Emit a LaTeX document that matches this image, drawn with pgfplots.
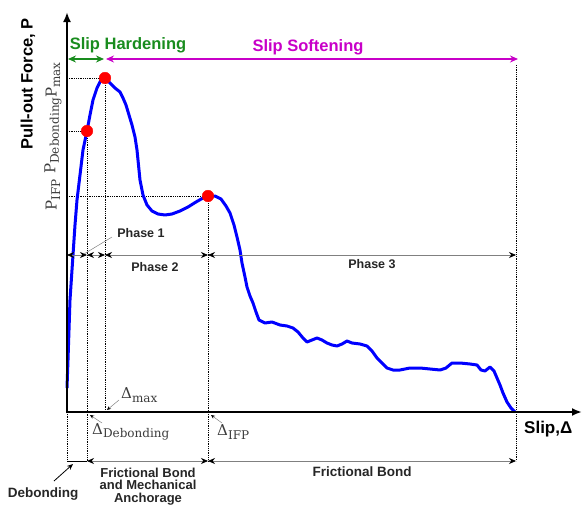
\documentclass[border=0pt]{standalone}
\usepackage{pgfplots}
\pgfplotsset{compat=1.18}
\usepackage{fontspec}
\setmainfont{Liberation Sans}
\newfontfamily\serif{DejaVu Serif}
\usetikzlibrary{arrows.meta}
\definecolor{hgreen}{RGB}{25,140,30}
\definecolor{smag}{RGB}{200,0,200}
\definecolor{dgray}{RGB}{60,60,60}
\newcommand{\sub}[1]{\raisebox{-3.5pt}{\fontsize{12}{14}\selectfont #1}}
\begin{document}
\begin{tikzpicture}
\path[use as bounding box] (0,0) rectangle (582pt,506pt);
\begin{axis}[at={(0,0)},anchor=south west, scale only axis, width=582pt, height=506pt,
  xmin=0,xmax=582,ymin=0,ymax=506, y dir=reverse, hide axis, clip=false]
% dotted guide lines
\draw[densely dotted, line width=0.8pt] (axis cs:67,78)--(axis cs:105,78);
\draw[densely dotted, line width=0.8pt] (axis cs:67,131)--(axis cs:87,131);
\draw[densely dotted, line width=0.8pt] (axis cs:67,196)--(axis cs:208,196);
\draw[densely dotted, line width=0.8pt] (axis cs:87,131)--(axis cs:87,461);
\draw[densely dotted, line width=0.8pt] (axis cs:105,78)--(axis cs:105,412);
\draw[densely dotted, line width=0.8pt] (axis cs:208,196)--(axis cs:208,461);
\draw[densely dotted, line width=0.8pt] (axis cs:516,65)--(axis cs:516,461);
\draw[densely dotted, line width=0.8pt] (axis cs:67,412)--(axis cs:67,461);
% curve
\addplot[blue, line width=3pt, line join=round] coordinates {
(67,388)(68,360)(69,330)(70,300)(72,270)(73,255)(75,225)(77,200)(80,175)(83,150)(87,131)(90,115)(93,100)(97,88)(101,80)(105,78)(110,83)(115,88)(120,92)(123,98)(126,105)(129,115)(132,125)(135,137)(137,150)(138,160)(140,180)(143,195)(147,205)(152,211)(158,214)(165,215)(172,214)(180,211)(188,207)(196,202)(203,198)(208,196)(215,196)(221,199)(226,206)(230,213)(234,225)(237,237)(240,250)(242,263)(245,277)(247,287)(250,296)(253,303)(256,312)(259,320)(265,323)(272,322)(280,325)(287,326)(293,328)(298,332)(303,338)(307,342)(312,340)(317,338)(322,340)(327,343)(332,345)(337,346)(342,344)(347,341)(352,343)(360,344)(367,346)(372,351)(377,358)(382,363)(387,368)(393,370)(400,370)(410,368)(420,368)(430,369)(440,370)(446,368)(452,363)(460,363)(470,364)(477,365)(481,370)(485,371)(490,367)(494,371)(497,378)(500,385)(503,393)(507,402)(511,408)(515,412)
};
\addplot[only marks, mark=*, mark size=5.8pt, red, mark options={draw=red,fill=red}] coordinates {(87,131)(105,78)(208,196)};
% axes
\draw[line width=2pt,-{Latex[length=10pt,width=8pt]}] (axis cs:67,413)--(axis cs:67,12);
\draw[line width=2pt,-{Latex[length=10pt,width=8pt]}] (axis cs:66,412)--(axis cs:582,412);
% top arrows
\draw[hgreen, line width=1.6pt, {Stealth[length=8pt,width=7pt]}-{Stealth[length=8pt,width=7pt]}] (axis cs:68,59)--(axis cs:104,59);
\draw[smag, line width=1.6pt, {Stealth[length=8pt,width=7pt]}-{Stealth[length=8pt,width=7pt]}] (axis cs:106,59)--(axis cs:518,59);
\node[hgreen, font=\bfseries\fontsize{16.5}{18}\selectfont] at (axis cs:128,45) {Slip Hardening};
\node[smag, font=\bfseries\fontsize{16.5}{18}\selectfont] at (axis cs:308,47) {Slip Softening};
% phase arrows
\draw[gray, line width=0.8pt, {Stealth[black,length=7pt,width=6pt]}-{Stealth[black,length=7pt,width=6pt]}] (axis cs:67,255)--(axis cs:87,255);
\draw[gray, line width=0.8pt, {Stealth[black,length=7pt,width=6pt]}-{Stealth[black,length=7pt,width=6pt]}] (axis cs:87,255)--(axis cs:105,255);
\draw[gray, line width=0.8pt, {Stealth[black,length=7pt,width=6pt]}-{Stealth[black,length=7pt,width=6pt]}] (axis cs:105,255)--(axis cs:208,255);
\draw[gray, line width=0.8pt, {Stealth[black,length=7pt,width=6pt]}-{Stealth[black,length=7pt,width=6pt]}] (axis cs:208,255)--(axis cs:516,255);
\draw[gray, line width=0.5pt] (axis cs:112,237)--(axis cs:84,254);
\node[font=\bfseries\fontsize{12.5}{14}\selectfont, text=black!85] at (axis cs:141,233) {Phase 1};
\node[font=\bfseries\fontsize{12.5}{14}\selectfont, text=black!85] at (axis cs:155,267) {Phase 2};
\node[font=\bfseries\fontsize{12.5}{14}\selectfont, text=black!85] at (axis cs:372,264) {Phase 3};
% bottom brackets
\draw[black, line width=0.8pt] (axis cs:67,461)--(axis cs:87,461);
\draw[gray, line width=0.8pt, {Stealth[black,length=7pt,width=6pt]}-{Stealth[black,length=7pt,width=6pt]}] (axis cs:87,461)--(axis cs:208,461);
\draw[gray, line width=0.8pt, {Stealth[black,length=7pt,width=6pt]}-{Stealth[black,length=7pt,width=6pt]}] (axis cs:208,461)--(axis cs:516,461);
\draw[black, line width=0.8pt, -{Stealth[length=6pt,width=5pt]}] (axis cs:54,481)--(axis cs:73,464);
\node[font=\bfseries\fontsize{13.5}{15}\selectfont, text=black!85] at (axis cs:43,494) {Debonding};
\node[font=\bfseries\fontsize{13}{12.6}\selectfont, text=black!85, align=center, anchor=south, inner sep=0.3pt] at (axis cs:148,505.5) {Frictional Bond\\and Mechanical\\Anchorage};
\node[font=\bfseries\fontsize{13.5}{15}\selectfont, text=black!85] at (axis cs:362,472) {Frictional Bond};
% delta labels
\draw[gray, line width=0.5pt, -{Stealth[black,length=4pt,width=3.5pt]}] (axis cs:119,400)--(axis cs:107,410);
\draw[gray, line width=0.5pt, -{Stealth[black,length=4pt,width=3.5pt]}] (axis cs:102,423)--(axis cs:90,415);
\draw[gray, line width=0.5pt, -{Stealth[black,length=4pt,width=3.5pt]}] (axis cs:222,423)--(axis cs:211,415);
\node[text=dgray, font=\serif\fontsize{15}{17}\selectfont, anchor=west, inner sep=0pt] at (axis cs:121,395) {Δ\sub{max}};
\node[text=dgray, font=\serif\fontsize{15}{17}\selectfont, anchor=west, inner sep=0pt] at (axis cs:92,432) {Δ\sub{Debonding}};
\node[text=dgray, font=\serif\fontsize{15}{17}\selectfont, anchor=west, inner sep=0pt] at (axis cs:217,432) {Δ\sub{IFP}};
% y labels
\node[rotate=90, font=\bfseries\fontsize{16.5}{18}\selectfont] at (axis cs:28,84) {Pull-out Force, P};
\node[rotate=90, text=dgray, font=\serif\fontsize{15}{17}\selectfont, anchor=west, inner sep=0pt] at (axis cs:53,98) {P\sub{max}};
\node[rotate=90, text=dgray, font=\serif\fontsize{15}{17}\selectfont, anchor=west, inner sep=0pt] at (axis cs:53,174) {P\sub{Debonding}};
\node[rotate=90, text=dgray, font=\serif\fontsize{15}{17}\selectfont, anchor=west, inner sep=0pt] at (axis cs:53,211) {P\sub{IFP}};
\node[font=\bfseries\fontsize{17}{19}\selectfont, anchor=west, inner sep=0pt] at (axis cs:524,429) {Slip,Δ};
\end{axis}
\end{tikzpicture}
\end{document}
